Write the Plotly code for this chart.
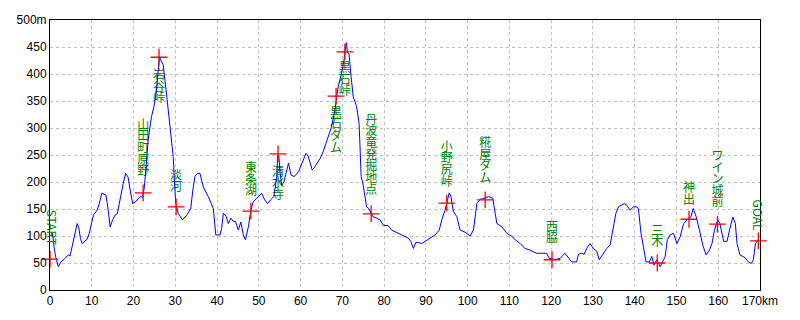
import plotly.graph_objects as go

# ---- elevation profile (km, m) ----
dist_km = [0.3, 0.6, 1.0, 1.4, 2.0, 2.6, 3.5, 4.4, 4.8, 5.4, 6.0, 6.5, 6.9, 7.3, 7.7, 8.3, 8.9, 9.4,
           10.0, 10.4, 11.3, 11.8, 12.4, 13.0, 13.4, 13.9, 14.4, 15.0, 15.6, 16.1, 16.8, 17.6, 18.1,
           18.7, 19.2, 19.8, 20.3, 20.8, 21.6, 22.2, 22.6, 23.0, 23.5, 24.3, 24.9, 25.5, 25.9, 26.2,
           26.5, 27.1, 27.8, 28.3, 29.0, 29.5, 29.8, 30.1, 30.7, 31.7, 32.7, 33.7, 34.2, 34.7, 35.3,
           35.9, 36.7, 37.9, 39.1, 39.7, 40.7, 41.1, 41.5, 42.2, 42.7, 43.3, 43.9, 44.4, 45.1, 45.7,
           46.3, 46.8, 47.5, 48.1, 48.7, 49.6, 50.7, 51.4, 52.1, 52.8, 53.6, 54.3, 54.5, 54.8, 55.1,
           55.5, 56.0, 56.5, 57.1, 57.7, 58.5, 59.5, 60.4, 61.3, 61.8, 62.8, 63.4, 64.7, 65.4, 66.3,
           67.4, 68.2, 68.7, 69.0, 69.8, 70.4, 70.8, 71.0, 71.2, 71.6, 72.1, 72.6, 73.4, 74.0, 74.2,
           74.5, 75.0, 75.4, 75.8, 76.3, 77.3, 78.2, 79.0, 79.8, 81.0, 81.8, 82.6, 83.4, 84.6, 85.8,
           86.4, 87.0, 87.6, 88.2, 89.0, 89.8, 91.0, 92.2, 93.2, 93.8, 94.6, 95.6, 96.0, 96.6, 97.4,
           98.2, 99.4, 100.6, 101.4, 102.2, 103.0, 104.2, 105.0, 106.0, 106.6, 107.0, 108.2, 109.4,
           110.6, 111.4, 112.6, 113.7, 114.9, 116.5, 118.1, 118.9, 119.5, 120.6, 121.4, 122.2, 123.3,
           124.1, 124.9, 126.1, 126.5, 127.3, 127.9, 128.5, 129.3, 130.1, 130.9, 131.5, 132.5, 133.3,
           134.1, 134.5, 134.9, 135.5, 136.1, 136.9, 137.5, 138.1, 138.9, 139.7, 140.5, 140.9, 141.5,
           142.1, 142.7, 143.5, 144.1, 144.6, 145.3, 146.1, 146.7, 147.3, 147.8, 148.5, 149.3, 150.1,
           150.9, 151.7, 152.9, 153.5, 154.0, 154.7, 155.5, 156.3, 157.1, 157.9, 158.5, 159.1, 159.9,
           160.4, 161.3, 162.1, 162.7, 163.5, 164.1, 164.5, 165.2, 166.4, 167.2, 167.9, 168.4, 168.9,
           169.6]
elev_m = [100, 105, 78, 60, 43, 52, 58, 65, 63, 85, 105, 123, 115, 95, 86, 90, 94, 105,
          128, 139, 148, 160, 179, 178, 176, 150, 117, 130, 139, 141, 170, 200, 216,
          209, 185, 160, 162, 167, 173, 172, 191, 228, 278, 321, 340, 370, 407, 432,
          426, 417, 370, 333, 284, 247, 200, 160, 142, 130, 138, 151, 185, 210, 216,
          216, 191, 173, 151, 102, 102, 114, 142, 136, 123, 133, 127, 127, 111, 126,
          102, 93, 117, 148, 164, 170, 179, 167, 160, 167, 173, 210, 250, 248, 216,
          194, 200, 216, 235, 213, 210, 219, 235, 253, 248, 222, 228, 244, 256, 278,
          302, 333, 358, 376, 401, 426, 451, 458, 440, 438, 395, 358, 340, 309, 272,
          210, 194, 173, 154, 151, 136, 133, 130, 120, 119, 111, 108, 105, 102, 96,
          90, 77, 88, 88, 86, 90, 96, 102, 111, 130, 148, 180, 173, 145, 136,
          111, 107, 100, 111, 160, 168, 170, 173, 170, 142, 123, 117, 105,
          99, 93, 86, 77, 74, 68, 68, 68, 59, 57, 57, 59, 68,
          60, 52, 52, 66, 68, 66, 77, 86, 77, 72, 56, 68, 77,
          83, 99, 111, 142, 154, 157, 160, 157, 148, 154, 154, 150, 105,
          80, 52, 52, 62, 46, 56, 43, 52, 62, 93, 102, 105, 86,
          99, 123, 133, 136, 151, 136, 111, 83, 65, 74, 86, 111, 130,
          123, 90, 90, 111, 135, 123, 86, 65, 60, 52, 49, 56, 86,
          93]

# ---- waypoints ----
point_names = ["START", "山田町原野", "岩谷峠", "淡河", "東条湖", "清水寺", "黒石ダム", "黒石峠",
               "丹波竜発掘地点", "小野尻峠", "糀屋ダム", "西脇", "三木", "神出", "ワイン城前", "GOAL"]
point_km = [0, 22.3, 26.1, 30.2, 48.1, 54.6, 68.5, 70.6, 76.9, 95.0, 104.2, 120.2, 145.4, 153.0, 159.8, 169.6]
point_m = [57, 180, 431, 154, 146, 252, 359, 441, 141, 161, 167, 56, 50, 131, 122, 91]
# top of each vertical label (m); for rotated START/GOAL: label centre
label_top_m = [117, 315, 407, 222, 235, 228, 337, 420, 324, 274, 281, 126, 119, 198, 257, 139]
label_km = [0.5, 22.3, 26.1, 30.2, 48.1, 54.6, 68.5, 70.6, 76.9, 95.0, 104.2, 120.2, 145.4, 153.0, 159.8, 169.6]

x_ticks = list(range(0, 171, 10))
x_ticktext = [str(v) for v in x_ticks[:-1]] + ["170km"]
y_ticks = list(range(0, 501, 50))
y_ticktext = [str(v) for v in y_ticks[:-1]] + ["500m"]

CHAR_PITCH_M = 21.5  # vertical spacing of stacked characters (data units)

fig = go.Figure()

# stacked vertical labels (drawn first so the profile line lies on top)
cx, cy, ct = [], [], []
for name, lx, top in zip(point_names, label_km, label_top_m):
    if name in ("START", "GOAL"):
        continue
    for i, ch in enumerate(name):
        cx.append(lx)
        cy.append(top - (i + 0.5) * CHAR_PITCH_M)
        ct.append(ch)
fig.add_trace(go.Scatter(x=cx, y=cy, text=ct, mode="text", textposition="middle center",
                         textfont=dict(family="Noto Sans CJK JP", size=12, color="#008000"),
                         hoverinfo="skip", showlegend=False, cliponaxis=False))

fig.add_trace(go.Scatter(x=dist_km, y=elev_m, mode="lines",
                         line=dict(color="#0000FF", width=1), showlegend=False))

fig.add_trace(go.Scatter(x=point_km, y=point_m, mode="markers",
                         marker=dict(symbol="cross-thin", size=12,
                                     line=dict(color="#FF0000", width=1.3)),
                         showlegend=False, cliponaxis=False))

for name, lx, top in zip(point_names, label_km, label_top_m):
    if name in ("START", "GOAL"):
        fig.add_annotation(x=lx, y=top, text=name, textangle=90, showarrow=False,
                           font=dict(family="Noto Sans CJK JP", size=12, color="#008000"))

axis_font = dict(family="Liberation Sans, Arial", size=12, color="black")
fig.update_xaxes(range=[0, 170], tickvals=x_ticks, ticktext=x_ticktext, tickfont=axis_font,
                 showgrid=True, gridcolor="#c0c0c0", griddash="3px,3px", gridwidth=1,
                 showline=True, linecolor="black", linewidth=1, mirror=True,
                 ticks="", zeroline=False, automargin=False)
fig.update_yaxes(range=[0, 500], tickvals=y_ticks, ticktext=y_ticktext, tickfont=axis_font,
                 showgrid=True, gridcolor="#c0c0c0", griddash="3px,3px", gridwidth=1,
                 showline=True, linecolor="black", linewidth=1, mirror=True,
                 ticks="", zeroline=False, automargin=False)

# page body has an 8px default margin, so the figure is sized/offset to compensate
fig.update_layout(width=784, height=304, margin=dict(l=42, r=32, t=12, b=22),
                  paper_bgcolor="white", plot_bgcolor="white", showlegend=False)

fig.write_html("out.html")
